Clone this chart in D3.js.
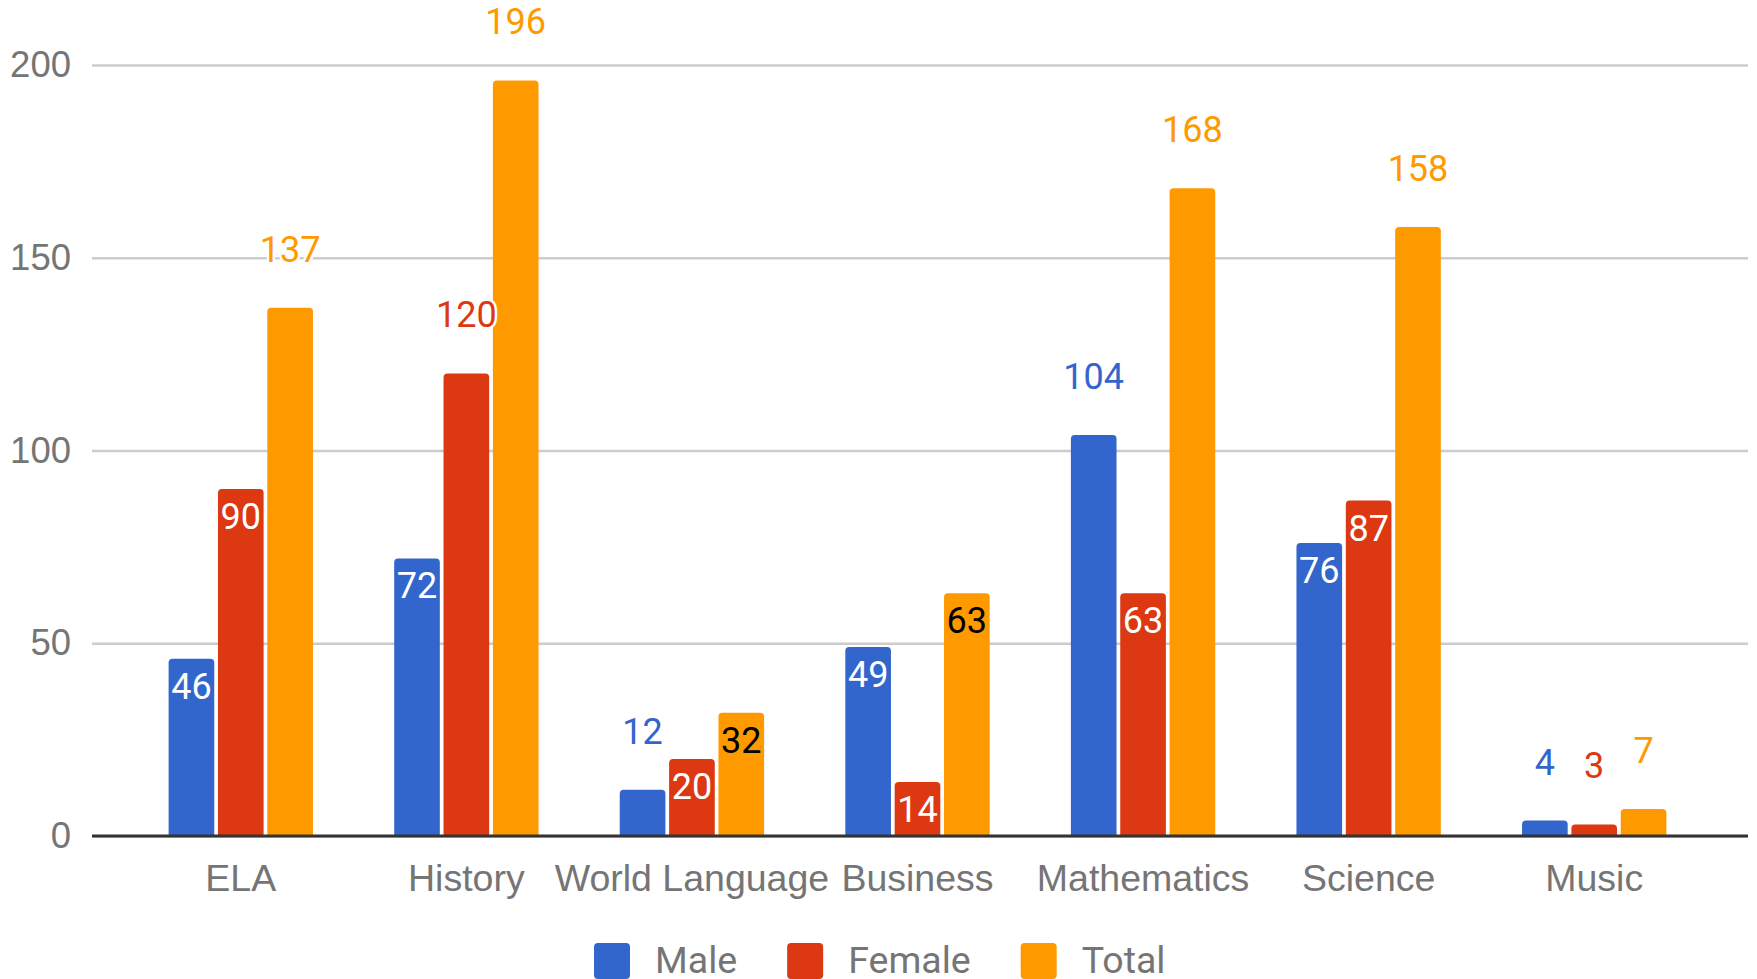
<!DOCTYPE html>
<html>
<head>
<meta charset="utf-8">
<script src="https://cdn.jsdelivr.net/npm/d3@7"></script>
<style>
  html, body { margin: 0; padding: 0; background: #fff; }
  svg { display: block; font-family: Roboto, "Noto Sans", sans-serif; }
</style>
</head>
<body>
<svg id="chart" width="1757" height="979"></svg>
<script>
// data
const subjects = ["ELA", "History", "World Language", "Business", "Mathematics", "Science", "Music"];
const seriesNames = ["Male", "Female", "Total"];
const male   = [46, 72, 12, 49, 104, 76, 4];
const female = [90, 120, 20, 14, 63, 87, 3];
const total  = [137, 196, 32, 63, 168, 158, 7];
const yTicks = [0, 50, 100, 150, 200];
const colors = ["#3366cc", "#dc3912", "#ff9900"];
const insideColors = ["#ffffff", "#ffffff", "#000000"];

const values = [male, female, total];
const rows = subjects.map((s, i) => ({
  subject: s,
  vals: seriesNames.map((n, k) => ({ name: n, k, value: values[k][i] }))
}));

const width = 1757, height = 979;
const plotLeft = 92, plotRight = 1748;

const svg = d3.select("#chart");

const y = d3.scaleLinear().domain([0, 200]).range([836, 65]);

const x0 = d3.scaleBand()
  .domain(subjects)
  .range([128, 1707])
  .paddingInner(0.36)
  .paddingOuter(0.18);

const x1 = d3.scaleBand()
  .domain(seriesNames)
  .range([0, x0.bandwidth()])
  .paddingInner(0.075);

// gridlines + y labels
const gy = svg.append("g")
  .attr("transform", `translate(${plotLeft},0)`)
  .call(d3.axisLeft(y).tickValues(yTicks).tickSize(-(plotRight - plotLeft)).tickPadding(21))
  .call(g => g.select(".domain").remove());
gy.selectAll(".tick line")
  .attr("stroke", "#cccccc")
  .attr("stroke-width", 2.5);
gy.selectAll(".tick text")
  .attr("fill", "#757575")
  .attr("font-size", 36.5);

// bars
const barPath = (x, y0, w, h, r) => {
  r = Math.min(r, h, w / 2);
  return `M${x},${y0 + h}V${y0 + r}Q${x},${y0} ${x + r},${y0}H${x + w - r}Q${x + w},${y0} ${x + w},${y0 + r}V${y0 + h}Z`;
};

const groups = svg.append("g")
  .selectAll("g")
  .data(rows)
  .join("g")
  .attr("transform", d => `translate(${x0(d.subject)},0)`);

groups.selectAll("path")
  .data(d => d.vals)
  .join("path")
  .attr("fill", d => colors[d.k])
  .attr("d", d => barPath(x1(d.name), y(d.value), x1.bandwidth(), y(0) - y(d.value), 4));

// baseline
svg.append("line")
  .attr("x1", plotLeft).attr("x2", plotRight)
  .attr("y1", y(0)).attr("y2", y(0))
  .attr("stroke", "#333333")
  .attr("stroke-width", 3);

// value labels: inside the bar when it fits, otherwise above it
const fits = d => String(d.value).length <= 2 && (y(0) - y(d.value)) > 50;

groups.selectAll("text")
  .data(d => d.vals)
  .join("text")
  .attr("x", d => x1(d.name) + x1.bandwidth() / 2)
  .attr("y", d => fits(d) ? y(d.value) + 40 : y(d.value) - 46)
  .attr("text-anchor", "middle")
  .attr("font-size", 36)
  .attr("fill", d => fits(d) ? insideColors[d.k] : colors[d.k])
  .attr("stroke", d => fits(d) ? "none" : "#ffffff")
  .attr("stroke-width", 5)
  .attr("paint-order", "stroke")
  .text(d => d.value);

// category axis
const gx = svg.append("g")
  .attr("transform", `translate(0,${y(0)})`)
  .call(d3.axisBottom(x0).tickSize(0).tickPadding(28))
  .call(g => g.select(".domain").remove());
gx.selectAll(".tick text")
  .attr("fill", "#757575")
  .attr("font-size", 37.5);

// legend
const legend = svg.append("g");
let lx = 594;
seriesNames.forEach((n, k) => {
  legend.append("rect")
    .attr("x", lx).attr("y", 943)
    .attr("width", 36).attr("height", 36)
    .attr("rx", 4)
    .attr("fill", colors[k]);
  const t = legend.append("text")
    .attr("x", lx + 61).attr("y", 973)
    .attr("font-size", 37.5)
    .attr("fill", "#757575")
    .text(n);
  lx += 61 + t.node().getComputedTextLength() + 50;
});
</script>
</body>
</html>
